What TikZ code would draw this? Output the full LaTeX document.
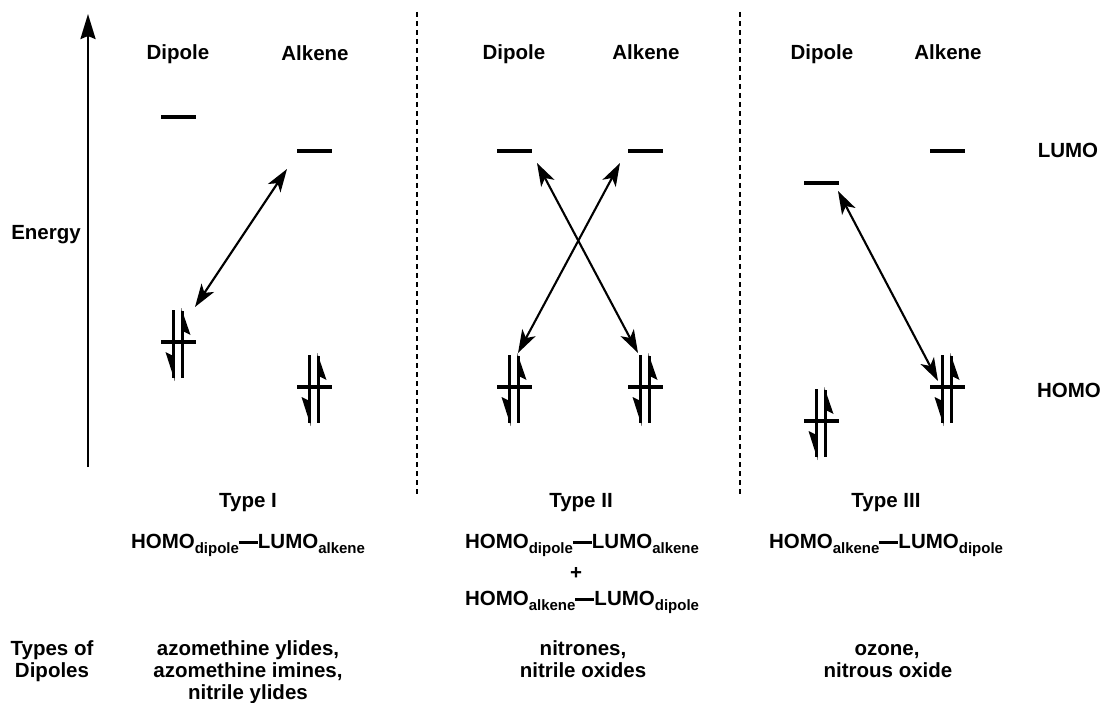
\documentclass[tikz,border=0pt]{standalone}
\usepackage{fontspec}
\setmainfont{Liberation Sans}
\usetikzlibrary{arrows.meta}

% subscript and bond dash used in the frontier-orbital formulas
\newcommand{\orbsub}[1]{\raisebox{-5.5pt}{\fontsize{15}{16}\selectfont #1}}
\newcommand{\bondbar}{\rule[4pt]{19pt}{3pt}}

\tikzset{
  lbl/.style={font=\bfseries\fontsize{20.5}{23}\selectfont, anchor=base, inner sep=0pt},
  orb/.style={fill=black, draw=none, minimum width=35pt, minimum height=4.8pt, inner sep=0pt},
  xarrow/.style={line width=2.1pt,
    {Stealth[length=23pt,width=15pt,inset=6pt]}-{Stealth[length=23pt,width=15pt,inset=6pt]}},
  sepline/.style={line width=2pt, dash pattern=on 5pt off 4pt},
  % paired electrons: two vertical lines with opposite half-arrow heads
  epair/.pic={
    \draw[line width=2.6pt] (-4.5,-32) -- (-4.5,36);
    \fill (-3.2,39) -- (-12.5,10) -- (-4.5,14) -- cycle;
    \draw[line width=2.6pt] (4.5,-31) -- (4.5,36);
    \fill (3.2,-34) -- (12.5,-7) -- (4.5,-11) -- cycle;
  }
}

\begin{document}
\begin{tikzpicture}[x=1pt, y=-1pt]
\useasboundingbox (0,0) rectangle (1102,703);

% energy axis
\coordinate (ebase) at (88,467);
\coordinate (etop) at (88,14);
\draw[line width=2.6pt, -{Stealth[length=25pt,width=15pt,inset=3pt]}] (ebase) -- (etop);
\node[lbl] (energy) at (46,240) {Energy};

% column separators
\coordinate (s1t) at (417,12);  \coordinate (s1b) at (417,495);
\coordinate (s2t) at (740,12);  \coordinate (s2b) at (740,495);
\draw[sepline] (s1t) -- (s1b);
\draw[sepline] (s2t) -- (s2b);

% column headers
\node[lbl] (hd1) at (178,60) {Dipole};
\node[lbl] (ha1) at (315,61) {Alkene};
\node[lbl] (hd2) at (514,60) {Dipole};
\node[lbl] (ha2) at (646,60) {Alkene};
\node[lbl] (hd3) at (822,60) {Dipole};
\node[lbl] (ha3) at (948,60) {Alkene};

\node[lbl] (lumo) at (1068,158) {LUMO};
\node[lbl] (homo) at (1069,397) {HOMO};

% Type I levels
\node[orb] (dL1) at (178,117) {};
\node[orb] (aL1) at (314,151) {};
\node[orb] (dH1) at (178,342) {};
\node[orb] (aH1) at (314,387) {};
\pic at (dH1) {epair};
\pic at (aH1) {epair};

% Type II levels
\node[orb] (dL2) at (514,151) {};
\node[orb] (aL2) at (645,151) {};
\node[orb] (dH2) at (514,387) {};
\node[orb] (aH2) at (645,387) {};
\pic at (dH2) {epair};
\pic at (aH2) {epair};

% Type III levels
\node[orb] (dL3) at (821,183) {};
\node[orb] (aL3) at (947,151) {};
\node[orb] (dH3) at (821,421) {};
\node[orb] (aH3) at (947,387) {};
\pic at (dH3) {epair};
\pic at (aH3) {epair};

% orbital interactions
\coordinate (i1a) at (287,169);  \coordinate (i1b) at (195,307);
\coordinate (i2a) at (537,163);  \coordinate (i2b) at (638,353);
\coordinate (i3a) at (620,163);  \coordinate (i3b) at (518,353);
\coordinate (i4a) at (838,191);  \coordinate (i4b) at (938,381);
\draw[xarrow] (i1a) -- (i1b);
\draw[xarrow] (i2a) -- (i2b);
\draw[xarrow] (i3a) -- (i3b);
\draw[xarrow] (i4a) -- (i4b);

% type captions and formulas
\node[lbl] (t1) at (248,507) {Type I};
\node[lbl] (t2) at (581,507) {Type II};
\node[lbl] (t3) at (886,507) {Type III};

\node[lbl] (f1) at (248,548) {HOMO\orbsub{dipole}\bondbar LUMO\orbsub{alkene}};
\node[lbl] (f2) at (582,548) {HOMO\orbsub{dipole}\bondbar LUMO\orbsub{alkene}};
\node[lbl] (plus) at (576,579) {+};
\node[lbl] (f3) at (582,605) {HOMO\orbsub{alkene}\bondbar LUMO\orbsub{dipole}};
\node[lbl] (f4) at (886,548) {HOMO\orbsub{alkene}\bondbar LUMO\orbsub{dipole}};

% dipole classes
\node[lbl] (k1) at (52,655) {Types of};
\node[lbl] (k2) at (52,677) {Dipoles};
\node[lbl] (c1a) at (248,655) {azomethine ylides,};
\node[lbl] (c1b) at (248,677) {azomethine imines,};
\node[lbl] (c1c) at (248,699) {nitrile ylides};
\node[lbl] (c2a) at (583,655) {nitrones,};
\node[lbl] (c2b) at (583,677) {nitrile oxides};
\node[lbl] (c3a) at (887,655) {ozone,};
\node[lbl] (c3b) at (888,677) {nitrous oxide};
\end{tikzpicture}
\end{document}
